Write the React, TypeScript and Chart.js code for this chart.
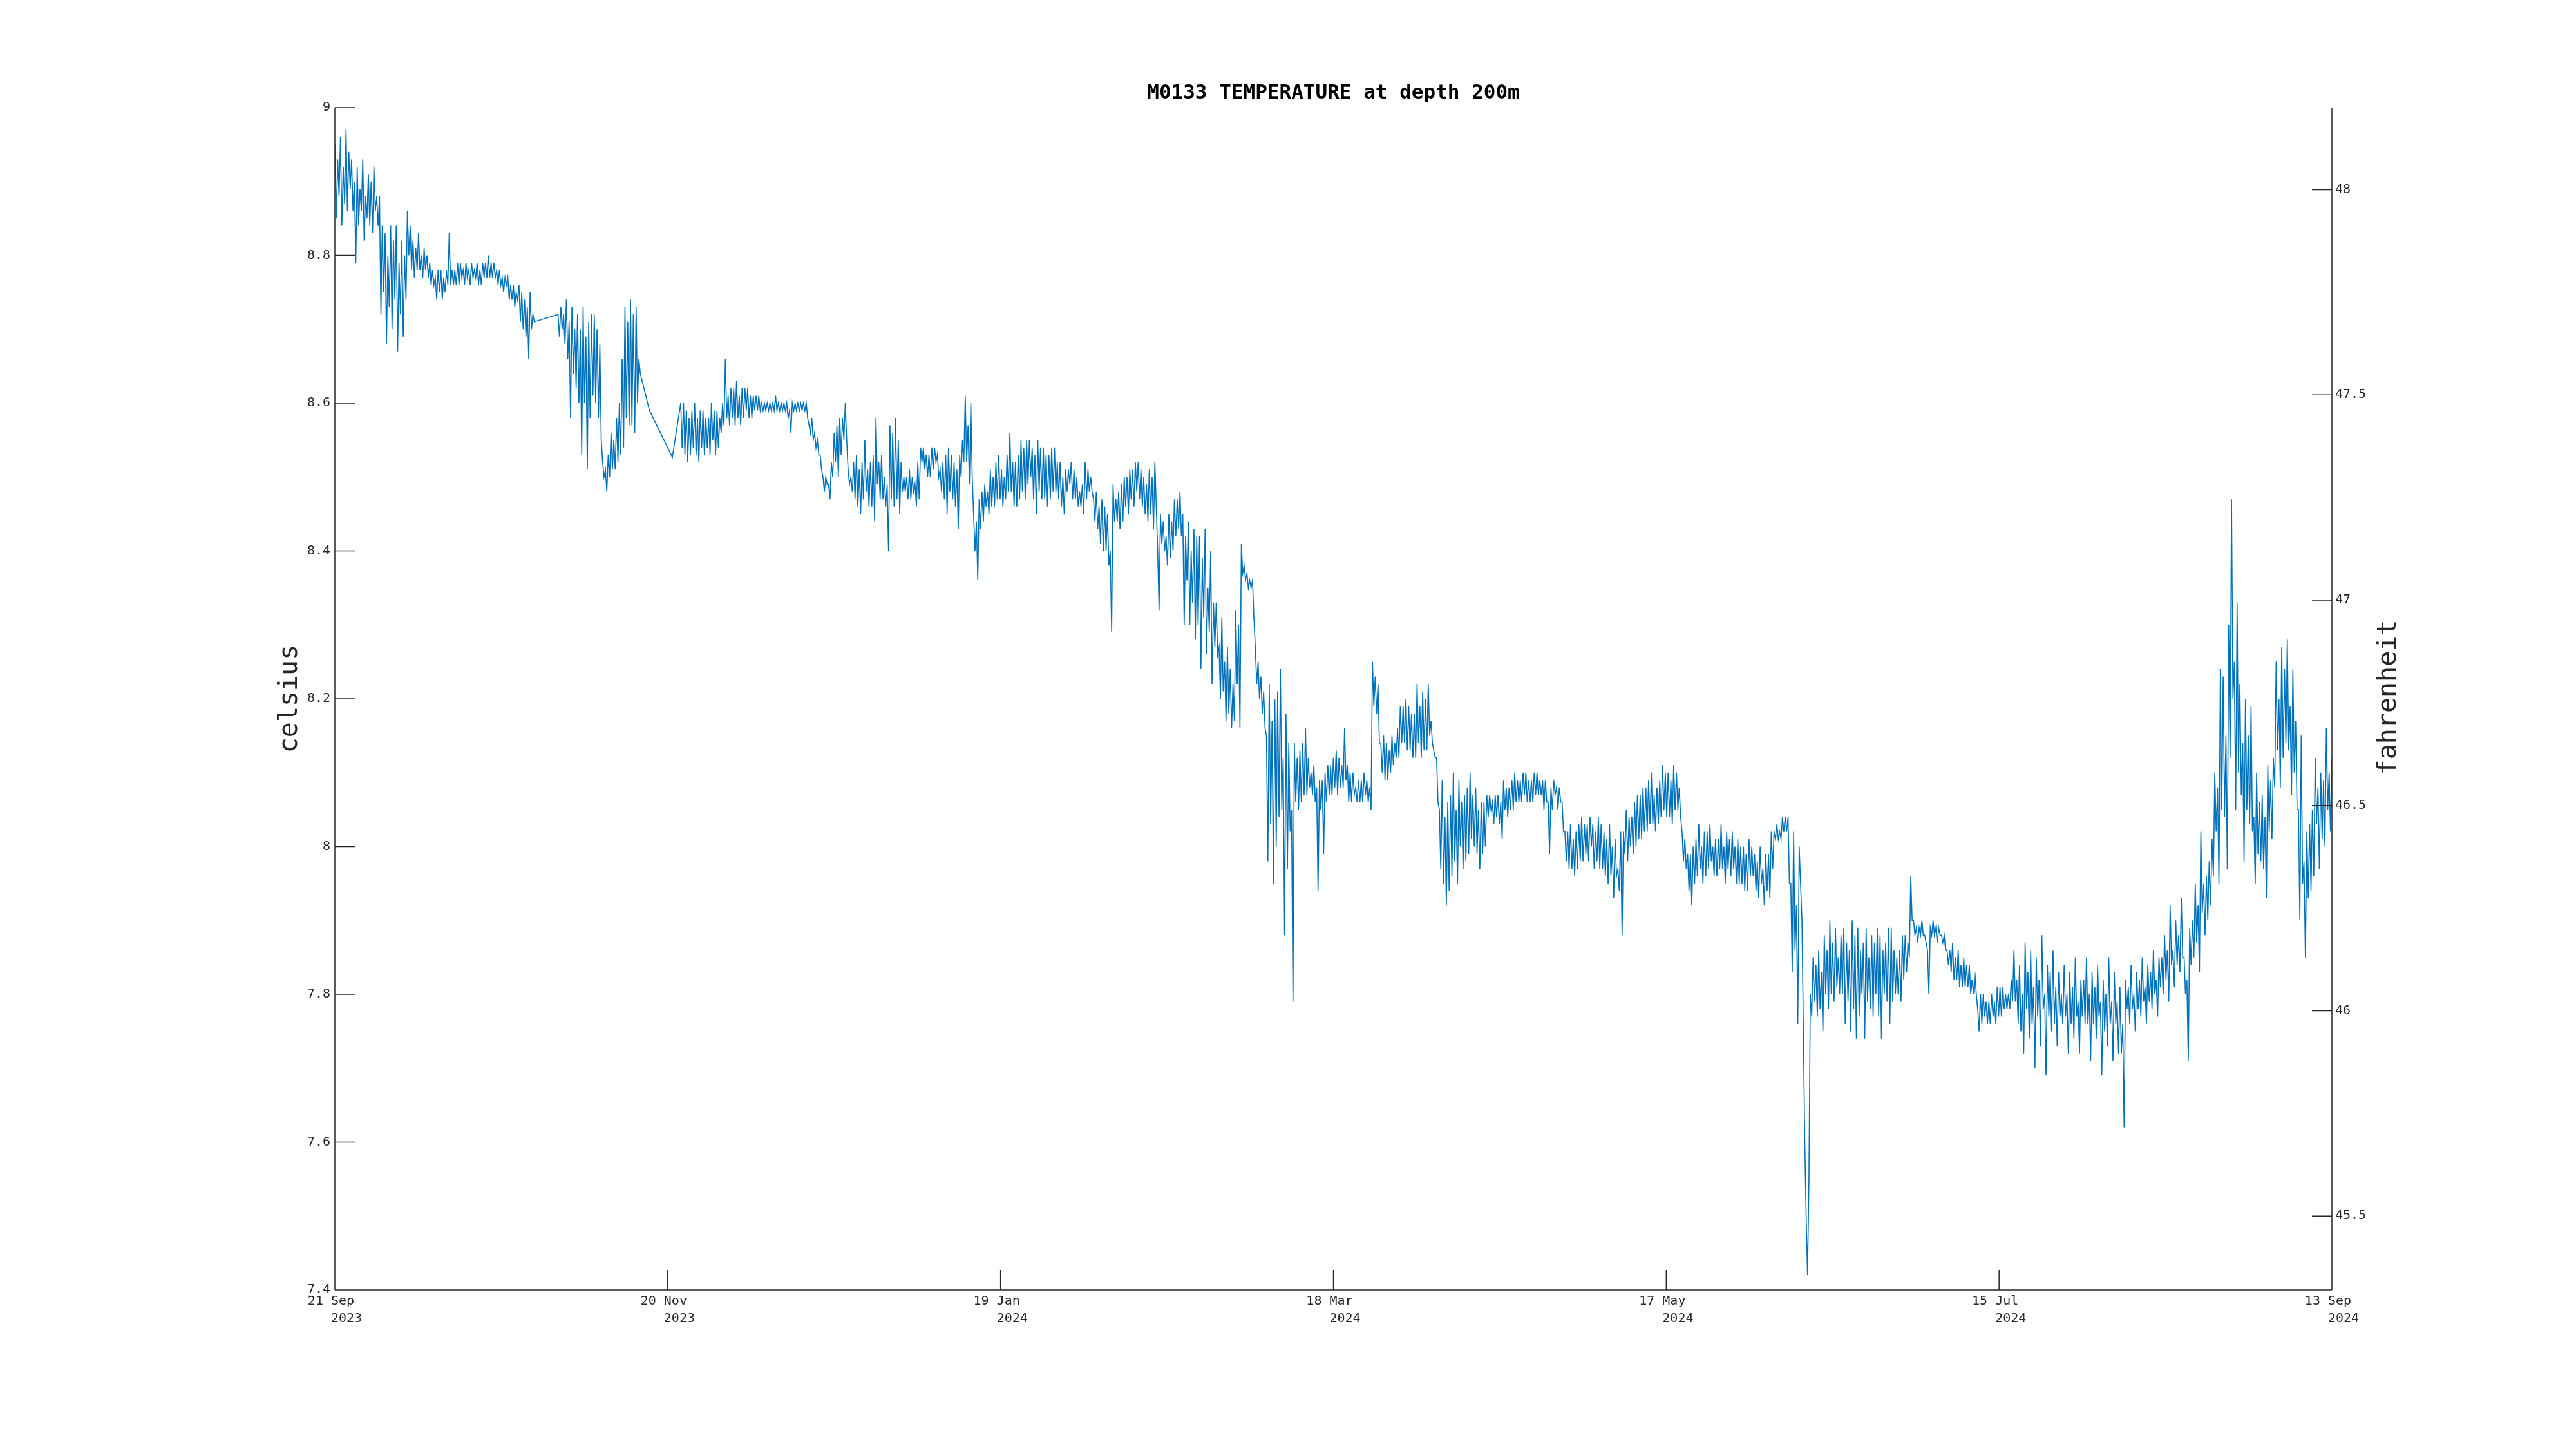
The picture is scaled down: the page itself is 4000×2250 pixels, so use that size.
import React, { useEffect, useRef } from 'react';
import { Chart, registerables } from 'chart.js';

Chart.register(...registerables);

// ---------- text ----------
const TITLE = 'M0133 TEMPERATURE at depth 200m';
const Y_LEFT_LABEL = 'celsius';
const Y_RIGHT_LABEL = 'fahrenheit';

// ---------- axes ----------
const xTickDays = [0, 59.667, 119.333, 179, 238.667, 298.333, 358];
const xTickDates = ['21 Sep', '20 Nov', '19 Jan', '18 Mar', '17 May', '15 Jul', '13 Sep'];
const xTickYears = ['2023', '2023', '2024', '2024', '2024', '2024', '2024'];
const yTickCelsius = [7.4, 7.6, 7.8, 8, 8.2, 8.4, 8.6, 8.8, 9];
const yTickFahrenheit = [45.5, 46, 46.5, 47, 47.5, 48];
const X_MIN_DAY = 0;
const X_MAX_DAY = 358;
const Y_MIN_C = 7.4;
const Y_MAX_C = 9;

// ---------- data ----------
// days since 21 Sep 2023, temperature in °C.
// Each chunk: a "hi" reading every 12 h and a "lo" reading 6 h after it (the noise peaks / troughs).
const HALF_DAY = 0.5;
const QUARTER_DAY = 0.25;

const startA = 0;
const hiA = [
  8.95, 8.93, 8.96, 8.92, 8.97, 8.94,
  8.93, 8.90, 8.92, 8.89, 8.93, 8.88, 8.91, 8.90, 8.92, 8.88,
  8.88, 8.84, 8.83, 8.80, 8.84, 8.82, 8.84, 8.79, 8.82, 8.80,
  8.86, 8.84,
  8.82, 8.81, 8.83, 8.80, 8.81, 8.80,
  8.79, 8.78,
  8.77, 8.78, 8.78, 8.77, 8.78, 8.83, 8.78,
  8.78, 8.79, 8.79, 8.78, 8.79, 8.78, 8.79, 8.78, 8.79, 8.78, 8.79, 8.79, 8.80, 8.79,
  8.79, 8.78, 8.78, 8.77, 8.77, 8.77, 8.76, 8.76, 8.75,
  8.76, 8.75, 8.74, 8.73, 8.75, 8.72,
];
const loA = [
  8.85, 8.88, 8.84, 8.87, 8.86, 8.89,
  8.86, 8.79, 8.84, 8.86, 8.82, 8.85, 8.84, 8.83, 8.86, 8.84,
  8.72, 8.75, 8.68, 8.73, 8.70, 8.74, 8.67, 8.72, 8.69, 8.74,
  8.80, 8.78,
  8.77, 8.78, 8.78, 8.77, 8.78, 8.77,
  8.76, 8.76,
  8.74, 8.75, 8.74, 8.75, 8.76, 8.76, 8.76,
  8.76, 8.76, 8.77, 8.76, 8.77, 8.76, 8.77, 8.77, 8.76, 8.76, 8.77, 8.77, 8.77, 8.77,
  8.77, 8.76, 8.76, 8.75, 8.76, 8.74, 8.74, 8.73, 8.74,
  8.71, 8.70, 8.69, 8.66, 8.70, 8.71,
];

const startB = 40;
const hiB = [
  8.72, 8.73, 8.72, 8.74, 8.71, 8.73, 8.70, 8.72,
  8.70, 8.73, 8.69, 8.71, 8.72, 8.72, 8.70, 8.68,
  8.52, 8.51,
  8.53, 8.56, 8.55, 8.58, 8.60, 8.66,
  8.73, 8.71, 8.74, 8.72, 8.73, 8.66,
];
const loB = [
  8.69, 8.70, 8.68, 8.66, 8.58, 8.64, 8.62, 8.60,
  8.53, 8.60, 8.51, 8.58, 8.61, 8.60, 8.58, 8.55,
  8.50, 8.48,
  8.50, 8.51, 8.51, 8.52, 8.53, 8.54,
  8.58, 8.57, 8.57, 8.56, 8.60, 8.64,
];

const gapDays = [56.4, 60.5];
const gapTemps = [8.59, 8.527];

const startC = 62;
const hiC = [
  8.60, 8.60, 8.59, 8.58, 8.59, 8.60, 8.58, 8.59, 8.59, 8.58, 8.58, 8.60, 8.59, 8.59, 8.58,
  8.60, 8.66, 8.61, 8.62, 8.62, 8.63, 8.61, 8.62, 8.62, 8.62, 8.61, 8.61, 8.61, 8.61, 8.60,
  8.60, 8.60, 8.60, 8.60, 8.61, 8.60, 8.60, 8.60, 8.60, 8.59, 8.60, 8.60, 8.60, 8.60, 8.60, 8.60,
  8.57, 8.58, 8.56, 8.55, 8.53,
  8.50, 8.50, 8.49, 8.52,
  8.56, 8.57, 8.58, 8.58, 8.60,
  8.51, 8.50,
  8.52, 8.53, 8.51, 8.52, 8.55, 8.51, 8.52, 8.53, 8.58, 8.52, 8.53, 8.50,
];
const loC = [
  8.54, 8.53, 8.52, 8.53, 8.54, 8.53, 8.52, 8.54, 8.53, 8.54, 8.53, 8.55, 8.53, 8.54, 8.56,
  8.57, 8.58, 8.57, 8.58, 8.57, 8.58, 8.57, 8.58, 8.59, 8.58, 8.58, 8.59, 8.59, 8.59, 8.59,
  8.59, 8.59, 8.59, 8.59, 8.59, 8.59, 8.59, 8.59, 8.58, 8.56, 8.59, 8.59, 8.59, 8.59, 8.59, 8.58,
  8.56, 8.55, 8.54, 8.53, 8.51,
  8.48, 8.49, 8.47, 8.50,
  8.52, 8.50, 8.53, 8.55, 8.55,
  8.49, 8.48,
  8.47, 8.46, 8.45, 8.47, 8.48, 8.46, 8.46, 8.44, 8.49, 8.47, 8.47, 8.46,
];

const startD = 99;
const hiD = [
  8.49, 8.57, 8.56, 8.58, 8.55, 8.52,
  8.50, 8.50, 8.51, 8.50, 8.49, 8.52,
  8.54, 8.54, 8.53, 8.53, 8.54, 8.54, 8.53, 8.51,
  8.52, 8.53, 8.54, 8.53, 8.52, 8.51, 8.53,
  8.55, 8.61, 8.57, 8.60,
  8.45, 8.44, 8.47, 8.48, 8.49,
  8.48, 8.51, 8.50, 8.52, 8.53, 8.51, 8.50, 8.53, 8.56, 8.52, 8.52, 8.53,
  8.55, 8.54, 8.55, 8.55, 8.54, 8.53, 8.55, 8.54, 8.54, 8.53, 8.53, 8.54, 8.54, 8.52, 8.52, 8.50, 8.51,
  8.51, 8.52, 8.51, 8.50, 8.48, 8.49, 8.52, 8.51, 8.50,
  8.47, 8.48, 8.46, 8.47, 8.46, 8.45, 8.40,
  8.49, 8.47, 8.48, 8.49, 8.50, 8.50, 8.51, 8.51, 8.52, 8.52, 8.51, 8.50, 8.49, 8.51, 8.50, 8.52,
  8.40, 8.45,
  8.44, 8.42, 8.45, 8.44, 8.47, 8.47, 8.48,
  8.45, 8.42, 8.44, 8.40, 8.43, 8.42, 8.42, 8.39, 8.43, 8.35, 8.40, 8.33, 8.33,
];
const loD = [
  8.40, 8.47, 8.46, 8.47, 8.45, 8.48,
  8.48, 8.47, 8.47, 8.48, 8.46, 8.47,
  8.52, 8.51, 8.50, 8.50, 8.51, 8.52, 8.50, 8.48,
  8.47, 8.45, 8.48, 8.47, 8.46, 8.43, 8.50,
  8.52, 8.52, 8.49, 8.50,
  8.40, 8.36, 8.43, 8.44, 8.46,
  8.45, 8.46, 8.46, 8.47, 8.47, 8.46, 8.47, 8.48, 8.48, 8.46, 8.46, 8.47,
  8.48, 8.47, 8.49, 8.50, 8.47, 8.45, 8.48, 8.47, 8.47, 8.46, 8.47, 8.48, 8.48, 8.47, 8.46, 8.45, 8.48,
  8.49, 8.47, 8.47, 8.46, 8.46, 8.45, 8.47, 8.48, 8.48,
  8.44, 8.43, 8.41, 8.40, 8.40, 8.38, 8.29,
  8.44, 8.44, 8.43, 8.44, 8.46, 8.45, 8.47, 8.46, 8.48, 8.47, 8.46, 8.45, 8.44, 8.45, 8.43, 8.46,
  8.32, 8.41,
  8.40, 8.38, 8.39, 8.40, 8.42, 8.43, 8.42,
  8.30, 8.36, 8.30, 8.33, 8.28, 8.30, 8.24, 8.31, 8.26, 8.29, 8.22, 8.27, 8.26,
];

const startE = 158.5;
const hiE = [
  8.27, 8.31, 8.25, 8.27, 8.24, 8.22, 8.32, 8.30,
  8.41, 8.38, 8.37, 8.36, 8.36,
  8.27, 8.25, 8.23, 8.21,
  8.15, 8.22, 8.17, 8.20, 8.21, 8.24, 8.12, 8.18, 8.14, 8.05,
  8.14, 8.12, 8.13, 8.14, 8.16, 8.12,
  8.10, 8.11, 8.08, 8.09, 8.09, 8.10, 8.11, 8.11, 8.12, 8.13, 8.12, 8.11,
  8.16, 8.11, 8.10, 8.10, 8.08, 8.09, 8.09, 8.10, 8.09, 8.08,
  8.25, 8.23, 8.22,
  8.14, 8.15, 8.14, 8.13, 8.15, 8.14,
  8.16, 8.19, 8.19, 8.20, 8.19, 8.18, 8.18, 8.22, 8.19, 8.21, 8.20, 8.22, 8.17,
  8.13, 8.12,
  8.05, 8.09, 8.04, 8.06, 8.07, 8.10, 8.05,
  8.09, 8.06, 8.07, 8.08, 8.10, 8.07, 8.08, 8.05, 8.06, 8.06,
];
const loE = [
  8.20, 8.21, 8.17, 8.18, 8.16, 8.17, 8.22, 8.16,
  8.37, 8.36, 8.35, 8.35, 8.31,
  8.22, 8.20, 8.18, 8.16,
  7.98, 8.03, 7.95, 8.00, 8.04, 8.05, 7.88, 7.97, 8.02, 7.79,
  8.06, 8.05, 8.06, 8.07, 8.07, 8.08,
  8.07, 8.06, 7.94, 8.05, 7.99, 8.06, 8.07, 8.07, 8.08, 8.07, 8.08, 8.08,
  8.09, 8.06, 8.06, 8.07, 8.06, 8.06, 8.06, 8.07, 8.06, 8.05,
  8.19, 8.18, 8.14,
  8.10, 8.09, 8.09, 8.10, 8.11, 8.12,
  8.12, 8.14, 8.14, 8.13, 8.13, 8.12, 8.12, 8.14, 8.12, 8.13, 8.13, 8.15, 8.14,
  8.12, 8.06,
  7.97, 7.95, 7.92, 7.94, 7.96, 7.98, 7.95,
  8.00, 7.97, 7.98, 7.99, 8.01, 8.00, 7.99, 7.97, 7.99, 8.00,
];

const startF = 206.5;
const hiF = [
  8.07, 8.07, 8.06, 8.07, 8.07, 8.06, 8.09, 8.08, 8.08, 8.09, 8.10, 8.09, 8.09, 8.10, 8.10, 8.09,
  8.09, 8.10, 8.10, 8.09, 8.09, 8.09, 8.06, 8.08, 8.09, 8.08, 8.08, 8.06,
  8.02, 8.02, 8.03, 8.01, 8.02, 8.03, 8.04, 8.03, 8.03, 8.04, 8.03, 8.02, 8.04, 8.03, 8.02, 8.01, 8.03, 8.00, 8.01,
  7.97, 8.02, 8.02, 8.05, 8.04, 8.04, 8.06, 8.07, 8.07, 8.08, 8.08, 8.09, 8.10, 8.07, 8.08, 8.09,
  8.11, 8.10, 8.10, 8.09, 8.11, 8.10, 8.08,
  8.02, 8.01, 7.99, 7.99, 8.00,
  8.01, 8.03, 8.00, 8.02, 8.02, 8.03, 8.00, 8.01, 8.01, 8.03, 8.00, 8.02, 8.01, 8.02,
  8.00, 8.01, 8.00, 8.00, 7.99, 8.01, 8.00, 7.99, 7.98, 8.00, 7.97, 7.99, 7.99, 8.02,
  8.02, 8.03, 8.02, 8.04, 8.04, 8.04,
  7.95, 8.02, 7.92, 8.00,
  7.90, 7.60, 7.42, 7.80,
  7.85, 7.84, 7.86, 7.83, 7.88, 7.86, 7.90, 7.87, 7.89, 7.85,
];
const loF = [
  8.04, 8.05, 8.03, 8.04, 8.03, 8.01, 8.05, 8.04, 8.05, 8.05, 8.06, 8.06, 8.06, 8.07, 8.06, 8.06,
  8.06, 8.07, 8.07, 8.07, 8.05, 8.06, 7.99, 8.05, 8.07, 8.05, 8.06, 8.02,
  7.98, 7.97, 7.97, 7.96, 7.97, 7.98, 7.98, 7.99, 7.98, 8.00, 7.97, 7.98, 7.97, 7.97, 7.96, 7.95, 7.96, 7.93, 7.96,
  7.94, 7.88, 7.99, 7.98, 8.00, 7.99, 8.00, 8.01, 8.01, 8.02, 8.02, 8.03, 8.03, 8.02, 8.03, 8.04,
  8.05, 8.04, 8.04, 8.03, 8.05, 8.05, 8.04,
  7.98, 7.97, 7.94, 7.92, 7.95,
  7.96, 7.97, 7.95, 7.96, 7.97, 7.98, 7.96, 7.96, 7.97, 7.97, 7.95, 7.97, 7.96, 7.97,
  7.95, 7.95, 7.95, 7.94, 7.94, 7.96, 7.96, 7.94, 7.93, 7.95, 7.92, 7.94, 7.93, 7.97,
  8.01, 8.01, 8.01, 8.02, 8.02, 7.95,
  7.83, 7.86, 7.76, 7.95,
  7.75, 7.50, 7.55, 7.77,
  7.79, 7.77, 7.78, 7.75, 7.80, 7.78, 7.80, 7.79, 7.81, 7.80,
];

const startG = 270;
const hiG = [
  7.88, 7.89, 7.87, 7.86, 7.90, 7.88, 7.89, 7.86, 7.87, 7.89, 7.85, 7.88, 7.87,
  7.89, 7.88, 7.86, 7.87, 7.89, 7.89, 7.86, 7.85, 7.86, 7.88, 7.88, 7.87,
  7.96, 7.90,
  7.89, 7.89, 7.90, 7.88, 7.86, 7.89, 7.90, 7.89, 7.89, 7.88, 7.88,
  7.86, 7.86, 7.87, 7.85, 7.86, 7.84, 7.85, 7.84, 7.84, 7.82, 7.83,
  7.78, 7.80, 7.80, 7.79, 7.79, 7.80, 7.79, 7.81, 7.81, 7.81, 7.80, 7.80, 7.82,
  7.86, 7.82, 7.84, 7.80, 7.87, 7.83, 7.86, 7.81, 7.85, 7.82, 7.88, 7.80, 7.84, 7.83, 7.86, 7.81, 7.83, 7.80,
  7.84, 7.80, 7.83, 7.81, 7.85, 7.79, 7.82, 7.82, 7.85, 7.80, 7.83, 7.81,
  7.84, 7.79, 7.82, 7.80, 7.85, 7.79, 7.83, 7.79, 7.81, 7.76, 7.82,
  7.81, 7.84, 7.80, 7.83, 7.82, 7.85, 7.81, 7.84, 7.83, 7.86, 7.82, 7.85,
  7.85, 7.88, 7.86, 7.92, 7.86, 7.90, 7.88, 7.93, 7.85, 7.82, 7.89, 7.90,
  7.95, 7.92, 8.02, 7.95, 7.96, 7.98,
  8.01, 8.10, 8.08, 8.24,
  8.23, 8.15, 8.30, 8.47, 8.25, 8.33,
  8.22, 8.14, 8.20, 8.15, 8.19,
  8.04, 8.10, 8.06, 8.07, 8.04, 8.11, 8.09, 8.12,
  8.25, 8.20, 8.27, 8.24, 8.28, 8.19, 8.24, 8.17,
  8.05, 8.15, 7.98, 8.02, 8.03, 8.05,
  8.12, 8.08, 8.10, 8.09, 8.16, 8.10, 8.12,
];
const loG = [
  7.80, 7.76, 7.79, 7.75, 7.78, 7.74, 7.77, 7.80, 7.74, 7.79, 7.78, 7.77, 7.80,
  7.77, 7.74, 7.80, 7.79, 7.76, 7.79, 7.80, 7.80, 7.79, 7.82, 7.83, 7.85,
  7.90, 7.88,
  7.87, 7.88, 7.88, 7.87, 7.80, 7.88, 7.88, 7.87, 7.88, 7.87, 7.86,
  7.84, 7.83, 7.82, 7.82, 7.81, 7.81, 7.81, 7.81, 7.80, 7.80, 7.80,
  7.75, 7.76, 7.77, 7.76, 7.76, 7.77, 7.76, 7.77, 7.77, 7.78, 7.78, 7.78, 7.79,
  7.79, 7.76, 7.75, 7.72, 7.78, 7.74, 7.76, 7.70, 7.77, 7.73, 7.78, 7.69, 7.77, 7.75, 7.76, 7.73, 7.77, 7.76,
  7.77, 7.72, 7.76, 7.74, 7.77, 7.72, 7.77, 7.76, 7.76, 7.71, 7.76, 7.74,
  7.77, 7.69, 7.75, 7.73, 7.76, 7.71, 7.76, 7.72, 7.72, 7.62, 7.78,
  7.76, 7.78, 7.75, 7.78, 7.77, 7.79, 7.76, 7.79, 7.78, 7.80, 7.77, 7.81,
  7.80, 7.82, 7.79, 7.84, 7.81, 7.84, 7.83, 7.85, 7.80, 7.71, 7.84, 7.85,
  7.87, 7.83, 7.91, 7.88, 7.90, 7.92,
  7.96, 8.02, 7.95, 8.05,
  8.04, 7.97, 8.12, 8.20, 8.05, 8.10,
  8.07, 7.98, 8.05, 8.03, 8.02,
  7.95, 7.99, 7.98, 7.97, 7.93, 8.02, 8.01, 8.08,
  8.13, 8.08, 8.12, 8.14, 8.13, 8.07, 8.10, 8.05,
  7.90, 7.95, 7.85, 7.93, 7.94, 7.96,
  8.03, 7.97, 8.01, 8.00, 8.05, 8.02,
];

// ---------- style ----------
const LINE_COLOR = '#0072BD';
const AXIS_COLOR = '#262626';
const FONT = '"DejaVu Sans Mono", monospace';
const TICK_LEN = 31;

const toF = (c: number) => c * 1.8 + 32;

function buildPoints() {
  const pts: { x: number; y: number }[] = [];
  const addChunk = (start: number, hi: number[], lo: number[]) => {
    hi.forEach((h, i) => {
      const d = start + i * HALF_DAY;
      if (d <= X_MAX_DAY) pts.push({ x: d, y: h });
      const l = lo[i];
      if (l !== undefined && d + QUARTER_DAY <= X_MAX_DAY) pts.push({ x: d + QUARTER_DAY, y: l });
    });
  };
  addChunk(startA, hiA, loA);
  addChunk(startB, hiB, loB);
  gapDays.forEach((d, i) => pts.push({ x: d, y: gapTemps[i] }));
  addChunk(startC, hiC, loC);
  addChunk(startD, hiD, loD);
  addChunk(startE, hiE, loE);
  addChunk(startF, hiF, loF);
  addChunk(startG, hiG, loG);
  return pts;
}

const fmt = (v: number) => String(Number(v.toFixed(2)));

const overlayPlugin = {
  id: 'matlabOverlay',
  afterDraw(chart: any) {
    const ctx = chart.ctx as CanvasRenderingContext2D;
    const { left, right, top, bottom } = chart.chartArea;
    const sx = chart.scales.x;
    const sy = chart.scales.y;
    const sf = chart.scales.yF;
    ctx.save();
    ctx.strokeStyle = AXIS_COLOR;
    ctx.lineWidth = 1.5;
    ctx.beginPath();
    ctx.moveTo(left, top);
    ctx.lineTo(left, bottom);
    ctx.moveTo(right, top);
    ctx.lineTo(right, bottom);
    ctx.moveTo(left, bottom);
    ctx.lineTo(right, bottom);
    sy.ticks.forEach((t: any) => {
      const y = sy.getPixelForValue(t.value);
      ctx.moveTo(left, y);
      ctx.lineTo(left + TICK_LEN, y);
    });
    sf.ticks.forEach((t: any) => {
      const y = sf.getPixelForValue(t.value);
      ctx.moveTo(right - TICK_LEN, y);
      ctx.lineTo(right, y);
    });
    sx.ticks.forEach((t: any) => {
      const x = sx.getPixelForValue(t.value);
      ctx.moveTo(x, bottom);
      ctx.lineTo(x, bottom - TICK_LEN);
    });
    ctx.stroke();

    ctx.fillStyle = '#000';
    ctx.font = `bold 31px ${FONT}`;
    ctx.textAlign = 'center';
    ctx.textBaseline = 'alphabetic';
    ctx.fillText(TITLE, (left + right) / 2, top - 14);

    const midY = (top + bottom) / 2;
    ctx.fillStyle = AXIS_COLOR;
    ctx.font = `40px ${FONT}`;
    ctx.save();
    ctx.translate(left - 59, midY);
    ctx.rotate(-Math.PI / 2);
    ctx.fillText(Y_LEFT_LABEL, 0, 0);
    ctx.restore();
    ctx.save();
    ctx.translate(right + 99, midY - 2);
    ctx.rotate(-Math.PI / 2);
    ctx.fillText(Y_RIGHT_LABEL, 0, 0);
    ctx.restore();
    ctx.restore();
  },
};

export default function App() {
  const canvasRef = useRef<HTMLCanvasElement | null>(null);

  useEffect(() => {
    if (!canvasRef.current) return;
    const tickFont = { family: FONT, size: 20, lineHeight: 1.35 };
    const chart = new Chart(canvasRef.current, {
      type: 'line',
      data: {
        datasets: [
          {
            data: buildPoints(),
            borderColor: LINE_COLOR,
            borderWidth: 1.6,
            pointRadius: 0,
            tension: 0,
            fill: false,
            yAxisID: 'y',
            xAxisID: 'x',
          },
        ],
      },
      options: {
        animation: false,
        responsive: false,
        devicePixelRatio: 1,
        events: [],
        layout: { padding: { top: 167, left: 0, right: 0, bottom: 0 } },
        plugins: {
          legend: { display: false },
          tooltip: { enabled: false },
          title: { display: false },
        },
        scales: {
          x: {
            type: 'linear',
            position: 'bottom',
            min: X_MIN_DAY,
            max: X_MAX_DAY,
            grid: { display: false, drawTicks: false },
            border: { display: false },
            afterBuildTicks: (s: any) => {
              s.ticks = xTickDays.map((v) => ({ value: v }));
            },
            afterFit: (s: any) => {
              s.height = 247;
            },
            ticks: {
              autoSkip: false,
              maxRotation: 0,
              minRotation: 0,
              padding: 4,
              color: AXIS_COLOR,
              font: tickFont,
              callback: (_v: any, i: number) => [xTickDates[i] + ' ', '   ' + xTickYears[i]],
            },
          },
          y: {
            type: 'linear',
            position: 'left',
            min: Y_MIN_C,
            max: Y_MAX_C,
            grid: { display: false, drawTicks: false },
            border: { display: false },
            afterBuildTicks: (s: any) => {
              s.ticks = yTickCelsius.map((v) => ({ value: v }));
            },
            afterFit: (s: any) => {
              s.width = 520;
            },
            ticks: {
              autoSkip: false,
              padding: 7,
              color: AXIS_COLOR,
              font: tickFont,
              callback: (v: any) => fmt(Number(v)),
            },
          },
          yF: {
            type: 'linear',
            position: 'right',
            min: toF(Y_MIN_C),
            max: toF(Y_MAX_C),
            grid: { display: false, drawTicks: false },
            border: { display: false },
            afterBuildTicks: (s: any) => {
              s.ticks = yTickFahrenheit.map((v) => ({ value: v }));
            },
            afterFit: (s: any) => {
              s.width = 379;
            },
            ticks: {
              autoSkip: false,
              padding: 5,
              color: AXIS_COLOR,
              font: tickFont,
              callback: (v: any) => fmt(Number(v)),
            },
          },
        },
      } as any,
      plugins: [overlayPlugin],
    });
    return () => chart.destroy();
  }, []);

  return (
    <div
      style={{
        position: 'fixed',
        left: 0,
        top: 0,
        width: 4000,
        height: 2250,
        background: '#ffffff',
      }}
    >
      <canvas ref={canvasRef} width={4000} height={2250} style={{ display: 'block' }} />
    </div>
  );
}
